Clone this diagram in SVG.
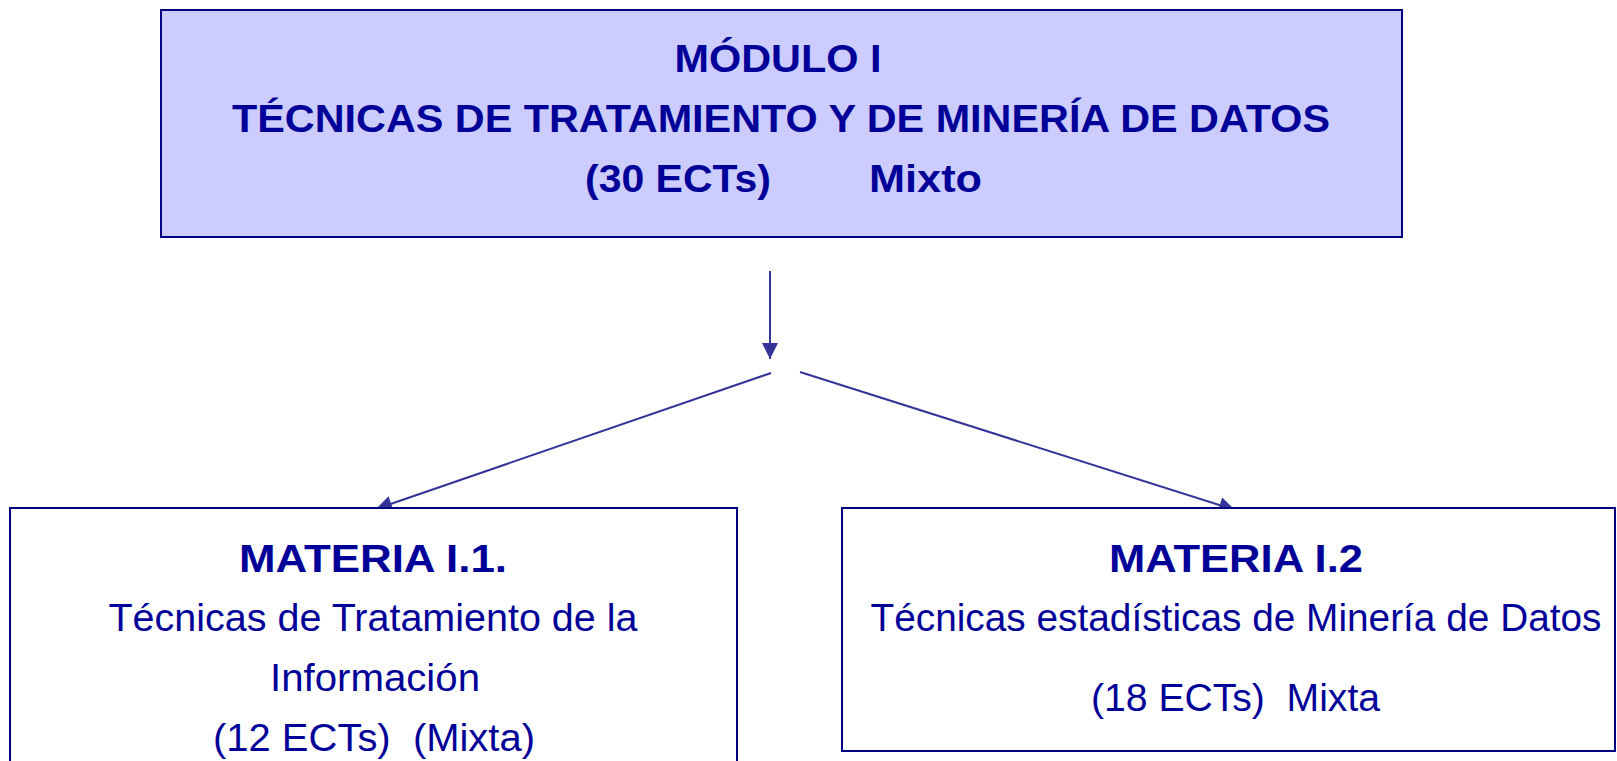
<svg xmlns="http://www.w3.org/2000/svg" width="1617" height="761" viewBox="0 0 1617 761">
<style>
.box{stroke:#000080;stroke-width:2}
.t{font-family:"Liberation Sans",Arial,sans-serif;fill:#000099;text-anchor:middle;white-space:pre}
.b{font-weight:bold;font-size:38px}
.r{font-size:38px}
.c{stroke:#333399;stroke-width:2;fill:none}
</style>
<defs>
<marker id="ah2" viewBox="0 0 10 10" refX="10" refY="5" markerWidth="18" markerHeight="16" markerUnits="userSpaceOnUse" orient="auto">
<path d="M0,0 L10,5 L0,10 z" fill="#333399"/>
</marker>
</defs>
<rect width="1617" height="761" fill="#ffffff"/>
<g id="connectors">
<line class="c" x1="770" y1="271" x2="770" y2="359" marker-end="url(#ah2)"/>
<line class="c" x1="771" y1="373" x2="376" y2="509" marker-end="url(#ah2)"/>
<line class="c" x1="800" y1="372" x2="1235" y2="510" marker-end="url(#ah2)"/>
</g>
<g id="modulo">
<rect class="box" x="161" y="10" width="1241" height="227" fill="#CCCCFF"/>
<text class="t b" x="778" y="72" textLength="207" lengthAdjust="spacingAndGlyphs">MÓDULO I</text>
<text class="t b" x="781" y="132" textLength="1098" lengthAdjust="spacingAndGlyphs">TÉCNICAS DE TRATAMIENTO Y DE MINERÍA DE DATOS</text>
<text class="t b" x="678" y="192" textLength="186" lengthAdjust="spacingAndGlyphs">(30 ECTs)</text>
<text class="t b" x="925.5" y="192" textLength="113" lengthAdjust="spacingAndGlyphs">Mixto</text>
</g>
<g id="materia1">
<rect class="box" x="10" y="508" width="727" height="270" fill="#ffffff"/>
<text class="t b" x="373" y="572" textLength="268" lengthAdjust="spacingAndGlyphs">MATERIA I.1.</text>
<text class="t r" x="373" y="631" textLength="529" lengthAdjust="spacingAndGlyphs">Técnicas de Tratamiento de la</text>
<text class="t r" x="375" y="691" textLength="210" lengthAdjust="spacingAndGlyphs">Información</text>
<text class="t r" x="374" y="751" textLength="322" lengthAdjust="spacingAndGlyphs" xml:space="preserve">(12 ECTs)  (Mixta)</text>
</g>
<g id="materia2">
<rect class="box" x="842" y="508" width="773" height="243" fill="#ffffff"/>
<text class="t b" x="1236" y="572" textLength="254" lengthAdjust="spacingAndGlyphs">MATERIA I.2</text>
<text class="t r" x="1236" y="631" textLength="731" lengthAdjust="spacingAndGlyphs">Técnicas estadísticas de Minería de Datos</text>
<text class="t r" x="1235.5" y="711" textLength="289" lengthAdjust="spacingAndGlyphs" xml:space="preserve">(18 ECTs)  Mixta</text>
</g>
</svg>
